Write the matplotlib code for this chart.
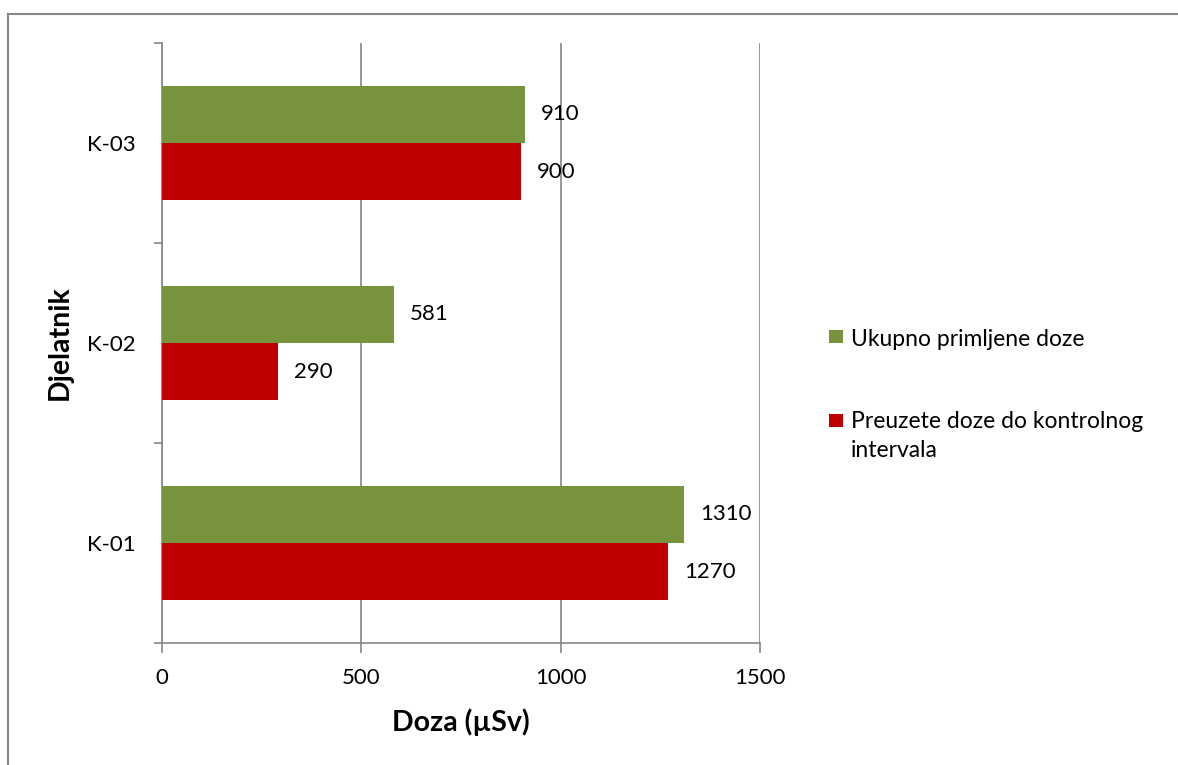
import matplotlib
matplotlib.use("Agg")
import matplotlib.pyplot as plt
import numpy as np
from matplotlib.patches import Rectangle
from matplotlib.lines import Line2D

categories = ["K-01", "K-02", "K-03"]
ukupno = [1310, 581, 910]
preuzete = [1270, 290, 900]
series_names = ["Ukupno primljene doze", "Preuzete doze do kontrolnog\nintervala"]
xticks = [0, 500, 1000, 1500]

GREEN = "#77933C"
RED = "#C00000"
GRAY = "#868686"

plt.rcParams['font.family'] = ['Lato', 'DejaVu Sans']

W, H = 1178, 765
fig = plt.figure(figsize=(W / 100, H / 100), dpi=100)
ax = fig.add_axes([162 / W, 1 - 643 / H, (760 - 162) / W, (643 - 43) / H])

y = np.arange(len(categories))
h = 0.285
ax.barh(y + h / 2, ukupno, height=h, color=GREEN, label=series_names[0], zorder=3)
ax.barh(y - h / 2, preuzete, height=h, color=RED, label=series_names[1], zorder=3)

FS = 16
for yi, v in zip(y, ukupno):
    ax.annotate(f"{v}", (v, yi + h / 2), xytext=(11.5, 0), textcoords="offset points",
                va="center", ha="left", fontsize=FS)
for yi, v in zip(y, preuzete):
    ax.annotate(f"{v}", (v, yi - h / 2), xytext=(11.5, 0), textcoords="offset points",
                va="center", ha="left", fontsize=FS)

ax.set_xlim(0, 1500)
ax.set_ylim(-0.5, 2.5)
ax.set_xticks(xticks)
ax.set_xticklabels([str(t) for t in xticks], fontsize=FS)
ax.set_yticks(y)
ax.set_yticklabels(categories, fontsize=FS)
ax.set_yticks([-0.5, 0.5, 1.5, 2.5], minor=True)
ax.tick_params(axis='y', which='major', length=0, pad=19)
ax.tick_params(axis='y', which='minor', length=6, color=GRAY, width=1.2)
ax.tick_params(axis='x', which='major', length=7, color=GRAY, width=1.2, pad=11)

ax.grid(axis='x', color=GRAY, linewidth=1.2, zorder=0)
for s in ['top', 'right']:
    ax.spines[s].set_visible(False)
for s in ['left', 'bottom']:
    ax.spines[s].set_color(GRAY)
    ax.spines[s].set_linewidth(1.2)
ax.spines['bottom'].set_bounds(0, 1500)

ax.set_xlabel("Doza (µSv)", fontsize=20.5, fontweight='bold', labelpad=15)
ax.set_ylabel("Djelatnik", fontsize=20.5, fontweight='bold', labelpad=10)

# legend (drawn manually to match the original layout)
LFS = 16.5
leg_items = [(GREEN, series_names[0], 337), (RED, series_names[1], 420)]
for color, name, yc in leg_items:
    fig.add_artist(Rectangle((829 / W, 1 - (yc + 6.5) / H), 14 / W, 13 / H,
                             facecolor=color, edgecolor='none', transform=fig.transFigure))
    fig.text(851 / W, 1 - (yc - 8.5) / H, name, fontsize=LFS, va='top', ha='left',
             linespacing=1.45)

# outer chart frame
fig.add_artist(Line2D([8 / W, 1], [1 - 14 / H, 1 - 14 / H], color=GRAY, linewidth=1.5,
                      transform=fig.transFigure))
fig.add_artist(Line2D([8 / W, 8 / W], [0, 1 - 14 / H], color=GRAY, linewidth=1.5,
                      transform=fig.transFigure))

fig.savefig("out.png", dpi=100)
